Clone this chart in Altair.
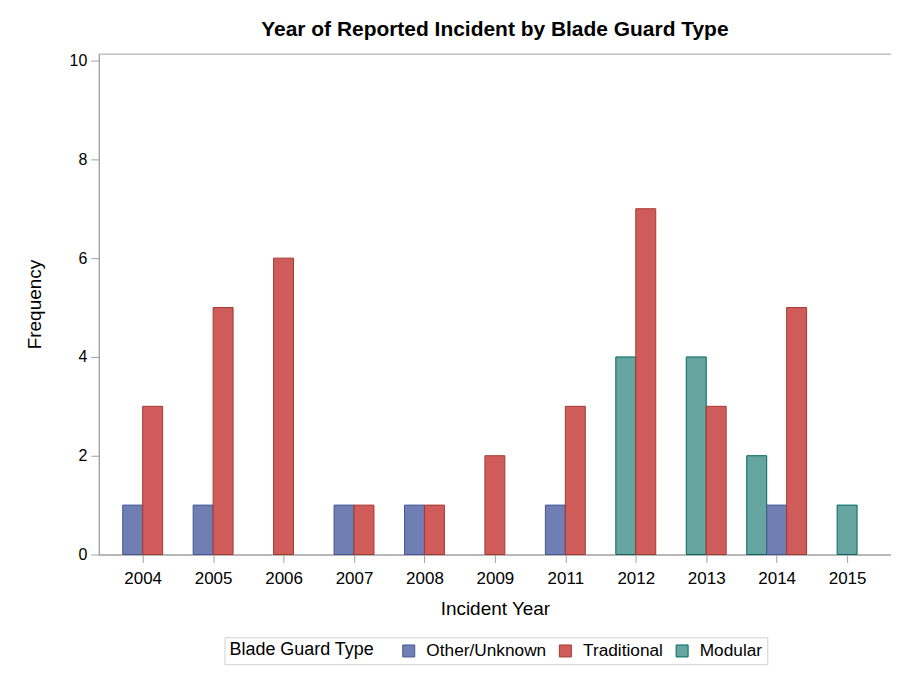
import altair as alt
import pandas as pd

years = ["2004", "2005", "2006", "2007", "2008", "2009", "2011", "2012", "2013", "2014", "2015"]
other_unknown = [1, 1, 0, 1, 1, 0, 1, 0, 0, 1, 0]
traditional = [3, 5, 6, 1, 1, 2, 3, 7, 3, 5, 0]
modular = [0, 0, 0, 0, 0, 0, 0, 4, 4, 2, 1]

groups = ["Other/Unknown", "Traditional", "Modular"]
fills = ["#6F7EB3", "#D05B5B", "#66A5A0"]
strokes = ["#445694", "#A23A2E", "#01665E"]

rows = []
for i, y in enumerate(years):
    for g, vals in (("Modular", modular), ("Other/Unknown", other_unknown), ("Traditional", traditional)):
        if vals[i] > 0:
            rows.append({"year": y, "idx": i, "group": g, "freq": vals[i]})
df = pd.DataFrame(rows)
df["rank"] = df.groupby("year").cumcount()
df["n"] = df.groupby("year")["group"].transform("count")
df["slot"] = df["rank"] - (df["n"] - 1) / 2

label_expr = "[" + ",".join("'%s'" % y for y in years) + "][datum.value]"

FONT = "Liberation Sans"

legend = alt.Legend(
    orient="none",
    legendX=126,
    legendY=585,
    direction="horizontal",
    titleOrient="left",
    symbolType="square",
)

chart = (
    alt.Chart(df)
    .transform_calculate(pos="datum.idx + datum.slot * 0.2833")
    .mark_bar(size=20, strokeWidth=1)
    .encode(
        x=alt.X(
            "pos:Q",
            scale=alt.Scale(domain=[-0.623, 10.623], nice=False, zero=False, padding=0),
            axis=alt.Axis(
                values=list(range(len(years))),
                labelExpr=label_expr,
                title="Incident Year",
                grid=False,
                labelFontSize=17,
                titleFontSize=19,
                titlePadding=13,
                labelPadding=8,
            ),
        ),
        y=alt.Y(
            "freq:Q",
            scale=alt.Scale(domain=[0, 10.14], nice=False),
            axis=alt.Axis(
                values=[0, 2, 4, 6, 8, 10],
                title="Frequency",
                grid=False,
                labelFontSize=16,
                titleFontSize=19,
                titlePadding=25,
                labelPadding=4,
            ),
        ),
        fill=alt.Fill(
            "group:N",
            scale=alt.Scale(domain=groups, range=fills),
            title="Blade Guard Type",
            legend=legend,
        ),
        stroke=alt.Stroke(
            "group:N",
            scale=alt.Scale(domain=groups, range=strokes),
            title="Blade Guard Type",
            legend=legend,
        ),
    )
    .properties(
        width=794,
        height=502,
        title=alt.TitleParams(
            "Year of Reported Incident by Blade Guard Type",
            font=FONT,
            fontSize=21,
            fontWeight="bold",
            color="#000000",
            anchor="middle",
            offset=13,
        ),
        padding={"left": 91, "top": 45, "right": 0, "bottom": 112},
        autosize=alt.AutoSizeParams(type="none"),
    )
    .configure_view(stroke="#A0A0A0", strokeWidth=1)
    .configure_axis(
        labelFont=FONT,
        titleFont=FONT,
        titleFontWeight="normal",
        labelColor="#000000",
        titleColor="#000000",
        domainColor="#A0A0A0",
        tickColor="#A0A0A0",
        tickSize=8,
    )
    .configure_axisX(labelFlush=False)
    .configure_legend(
        labelFont=FONT,
        titleFont=FONT,
        labelFontSize=17.3,
        titleFontSize=18,
        titleFontWeight="normal",
        labelColor="#000000",
        titleColor="#000000",
        strokeColor="#D0D0D0",
        padding=5,
        symbolSize=144,
        symbolStrokeWidth=1,
        columnPadding=10,
        titlePadding=25,
        labelOffset=9,
    )
)

chart.save("out.html", embed_options={"renderer": "svg", "actions": False})
